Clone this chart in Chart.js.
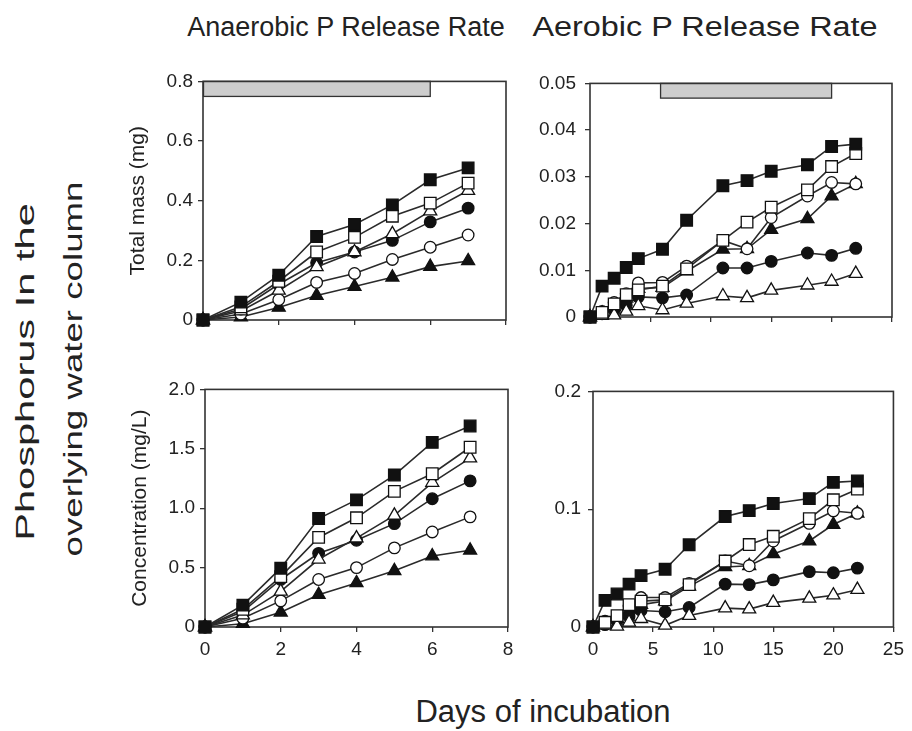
<!DOCTYPE html>
<html>
<head>
<meta charset="utf-8">
<script src="https://cdn.jsdelivr.net/npm/chart.js@4.4.1/dist/chart.umd.min.js"></script>
<style>
body{margin:0;background:#fff;width:912px;height:731px;overflow:hidden;position:relative;font-family:"Liberation Sans",Arial,sans-serif;color:#222}
canvas{position:absolute}
.txt{position:absolute;white-space:nowrap;text-align:center}
</style>
</head>
<body>

<div class="txt" style="left:146px;top:14px;width:400px;font-size:27px;line-height:27px">Anaerobic P Release Rate</div>
<div class="txt" style="left:505px;top:14px;width:400px;font-size:27px;line-height:27px;transform:scaleX(1.2)">Aerobic P Release Rate</div>
<div class="txt" style="left:-175px;top:359px;width:400px;font-size:26px;line-height:26px;transform:rotate(-90deg) scaleX(1.6)">Phosphorus In the</div>
<div class="txt" style="left:-127px;top:356px;width:400px;font-size:26px;line-height:26px;transform:rotate(-90deg) scaleX(1.41)">overlying water column</div>
<div class="txt" style="left:343px;top:696px;width:400px;font-size:31px;line-height:31px">Days of incubation</div>

<canvas id="massAn" width="418" height="300" style="left:103px;top:65px"></canvas>
<canvas id="massAe" width="417" height="299" style="left:490px;top:63px"></canvas>
<canvas id="concAn" width="418" height="299" style="left:105px;top:373px"></canvas>
<canvas id="concAe" width="417" height="299" style="left:493px;top:373px"></canvas>

<script>
// days sampled
const anaerobicDays = [0, 1, 2, 3, 4, 5, 6, 7]
const aerobicDays = [0, 1, 2, 3, 4, 6, 8, 11, 13, 15, 18, 20, 22]

// anaerobic, total mass (mg)
const anMassSqFilled = [0, 0.06, 0.15, 0.28, 0.32, 0.386, 0.47, 0.51]
const anMassSqOpen = [0, 0.044, 0.13, 0.228, 0.277, 0.348, 0.392, 0.459]
const anMassTriOpen = [0, 0.03, 0.099, 0.178, 0.228, 0.289, 0.365, 0.434]
const anMassCircFilled = [0, 0.037, 0.12, 0.192, 0.228, 0.267, 0.329, 0.375]
const anMassCircOpen = [0, 0.02, 0.068, 0.126, 0.156, 0.203, 0.244, 0.285]
const anMassTriFilled = [0, 0.01, 0.042, 0.082, 0.112, 0.143, 0.179, 0.198]

// anaerobic, concentration (mg/L)
const anConcSqFilled = [0, 0.184, 0.495, 0.913, 1.07, 1.279, 1.554, 1.692]
const anConcSqOpen = [0, 0.149, 0.424, 0.754, 0.919, 1.142, 1.29, 1.513]
const anConcTriOpen = [0, 0.10, 0.30, 0.57, 0.748, 0.94, 1.216, 1.422]
const anConcCircFilled = [0, 0.13, 0.40, 0.62, 0.73, 0.87, 1.08, 1.23]
const anConcCircOpen = [0, 0.074, 0.22, 0.40, 0.50, 0.666, 0.80, 0.927]
const anConcTriFilled = [0, 0.028, 0.124, 0.272, 0.371, 0.473, 0.597, 0.646]

// aerobic, total mass (mg)
const aeMassSqFilled = [0, 0.0066, 0.0083, 0.0106, 0.0125, 0.0145, 0.0207, 0.0281, 0.0292, 0.0312, 0.0326, 0.0365, 0.037]
const aeMassSqOpen = [0, 0.001, 0.0028, 0.0048, 0.0058, 0.0066, 0.0103, 0.0164, 0.0203, 0.0235, 0.0272, 0.0322, 0.035]
const aeMassTriOpen = [0, 0.0003, 0.0004, 0.0012, 0.0024, 0.0015, 0.0029, 0.0045, 0.0041, 0.0057, 0.0068, 0.0076, 0.0093]
const aeMassCircFilled = [0, 0.0007, 0.0015, 0.0025, 0.0043, 0.0041, 0.0047, 0.0105, 0.0105, 0.0119, 0.0137, 0.0132, 0.0147]
const aeMassCircOpen = [0, 0.0012, 0.0031, 0.005, 0.0073, 0.0074, 0.0109, 0.0164, 0.0146, 0.0213, 0.0259, 0.0288, 0.0285]
const aeMassTriFilled = [0, 0.0008, 0.0021, 0.004, 0.0061, 0.0063, 0.0098, 0.0145, 0.0146, 0.0187, 0.021, 0.0259, 0.0285]

// aerobic, concentration (mg/L)
const aeConcSqFilled = [0, 0.0226, 0.028, 0.0364, 0.0436, 0.049, 0.0698, 0.0938, 0.0988, 0.1048, 0.109, 0.1228, 0.124]
const aeConcSqOpen = [0, 0.004, 0.0097, 0.019, 0.022, 0.023, 0.036, 0.056, 0.070, 0.077, 0.092, 0.108, 0.117]
const aeConcTriOpen = [0, 0.0014, 0.0006, 0.004, 0.007, 0.0014, 0.0097, 0.016, 0.0152, 0.0207, 0.0243, 0.027, 0.0317]
const aeConcCircFilled = [0, 0.002, 0.005, 0.009, 0.014, 0.013, 0.0166, 0.0364, 0.036, 0.040, 0.047, 0.046, 0.050]
const aeConcCircOpen = [0, 0.005, 0.008, 0.018, 0.025, 0.025, 0.037, 0.056, 0.052, 0.073, 0.088, 0.0985, 0.0965]
const aeConcTriFilled = [0, 0.002, 0.007, 0.015, 0.019, 0.022, 0.0345, 0.051, 0.052, 0.062, 0.073, 0.087, 0.0965]

// tick labels
const anDayTicks = ["0", "2", "4", "6", "8"]
const aeDayTicks = ["0", "5", "10", "15", "20", "25"]
const anMassTicks = ["0", "0.2", "0.4", "0.6", "0.8"]
const aeMassTicks = ["0", "0.01", "0.02", "0.03", "0.04", "0.05"]
const anConcTicks = ["0", "0.5", "1.0", "1.5", "2.0"]
const aeConcTicks = ["0", "0.1", "0.2"]

// grey bars across the top of the mass panels (start day, end day)
const anBarDays = [0, 6]
const aeBarDays = [5.8, 20]

const markers = [
  {style: "rect", fill: "#111", r: 8.2},
  {style: "rect", fill: "#fff", r: 8.2},
  {style: "triangle", fill: "#fff", r: 7.5},
  {style: "circle", fill: "#111", r: 5.8},
  {style: "circle", fill: "#fff", r: 5.8},
  {style: "triangle", fill: "#111", r: 7.5}
]

const font = "'Liberation Sans', Arial, sans-serif"

const panelBox = {
  id: "panelBox",
  beforeDatasetsDraw(chart, args, opts){
    const {ctx, chartArea: a, scales: {x, y}} = chart
    ctx.save()
    if(opts.bar){
      const x0 = x.getPixelForValue(opts.bar[0])
      const x1 = x.getPixelForValue(opts.bar[1])
      const y0 = y.getPixelForValue(y.max)
      const y1 = y.getPixelForValue(y.max * 0.937)
      ctx.fillStyle = "#cdcdcd"
      ctx.fillRect(x0, y0, x1 - x0, y1 - y0)
      ctx.strokeStyle = "#333"
      ctx.lineWidth = 1.3
      ctx.strokeRect(x0 + 0.5, y0, x1 - x0 - 0.5, y1 - y0)
    }
    ctx.strokeStyle = "#333"
    ctx.lineWidth = 1.6
    ctx.strokeRect(a.left, a.top, a.width, a.height)
    ctx.restore()
  }
}

function pick(labels){
  return v => {
    const hit = labels.find(l => Math.abs(parseFloat(l) - v) < 1e-9)
    return hit === undefined ? "" : hit
  }
}

function makePanel(id, days, series, xTicks, yTicks, yTitle, bar, showX, yPad){

  const datasets = series.map((vals, i) => ({
    data: days.map((d, j) => ({x: d, y: vals[j]})),
    borderColor: "#2a2a2a",
    borderWidth: 1.6,
    pointStyle: markers[i].style,
    pointRadius: markers[i].r,
    pointBackgroundColor: markers[i].fill,
    pointBorderColor: "#111",
    pointBorderWidth: 1.3,
    tension: 0,
    clip: false
  }))

  new Chart(document.getElementById(id), {
    type: "line",
    data: {datasets: datasets},
    plugins: [panelBox],
    options: {
      responsive: false,
      animation: false,
      events: [],
      layout: {padding: {top: 12, right: 15, left: 0, bottom: 0}},
      plugins: {
        legend: {display: false},
        tooltip: {enabled: false},
        panelBox: {bar: bar}
      },
      scales: {
        x: {
          type: "linear",
          min: 0,
          max: parseFloat(xTicks[xTicks.length - 1]),
          afterFit: s => { s.height = 45 },
          border: {display: false},
          grid: {drawOnChartArea: false, tickLength: 5, color: "#333", lineWidth: 1.3},
          ticks: {
            display: showX,
            stepSize: parseFloat(xTicks[1]),
            padding: 6,
            color: "#222",
            font: {family: font, size: 19},
            callback: pick(xTicks),
            maxRotation: 0
          }
        },
        y: {
          min: 0,
          max: parseFloat(yTicks[yTicks.length - 1]),
          afterFit: s => { s.width = 100 },
          border: {display: false},
          grid: {drawOnChartArea: false, tickLength: 5, color: "#333", lineWidth: 1.3},
          ticks: {
            stepSize: parseFloat(yTicks[1]),
            padding: yPad,
            color: "#222",
            font: {family: font, size: 19},
            callback: pick(yTicks)
          },
          title: {
            display: !!yTitle,
            text: yTitle,
            color: "#222",
            font: {family: font, size: 21},
            padding: {top: 23}
          }
        }
      }
    }
  })
}

makePanel("massAn", anaerobicDays,
  [anMassSqFilled, anMassSqOpen, anMassTriOpen, anMassCircFilled, anMassCircOpen, anMassTriFilled],
  anDayTicks, anMassTicks, "Total mass (mg)", anBarDays, false, 5)

makePanel("massAe", aerobicDays,
  [aeMassSqFilled, aeMassSqOpen, aeMassTriOpen, aeMassCircFilled, aeMassCircOpen, aeMassTriFilled],
  aeDayTicks, aeMassTicks, "", aeBarDays, false, 9)

makePanel("concAn", anaerobicDays,
  [anConcSqFilled, anConcSqOpen, anConcTriOpen, anConcCircFilled, anConcCircOpen, anConcTriFilled],
  anDayTicks, anConcTicks, "Concentration (mg/L)", null, true, 5)

makePanel("concAe", aerobicDays,
  [aeConcSqFilled, aeConcSqOpen, aeConcTriOpen, aeConcCircFilled, aeConcCircOpen, aeConcTriFilled],
  aeDayTicks, aeConcTicks, "", null, true, 7)
</script>
</body>
</html>
